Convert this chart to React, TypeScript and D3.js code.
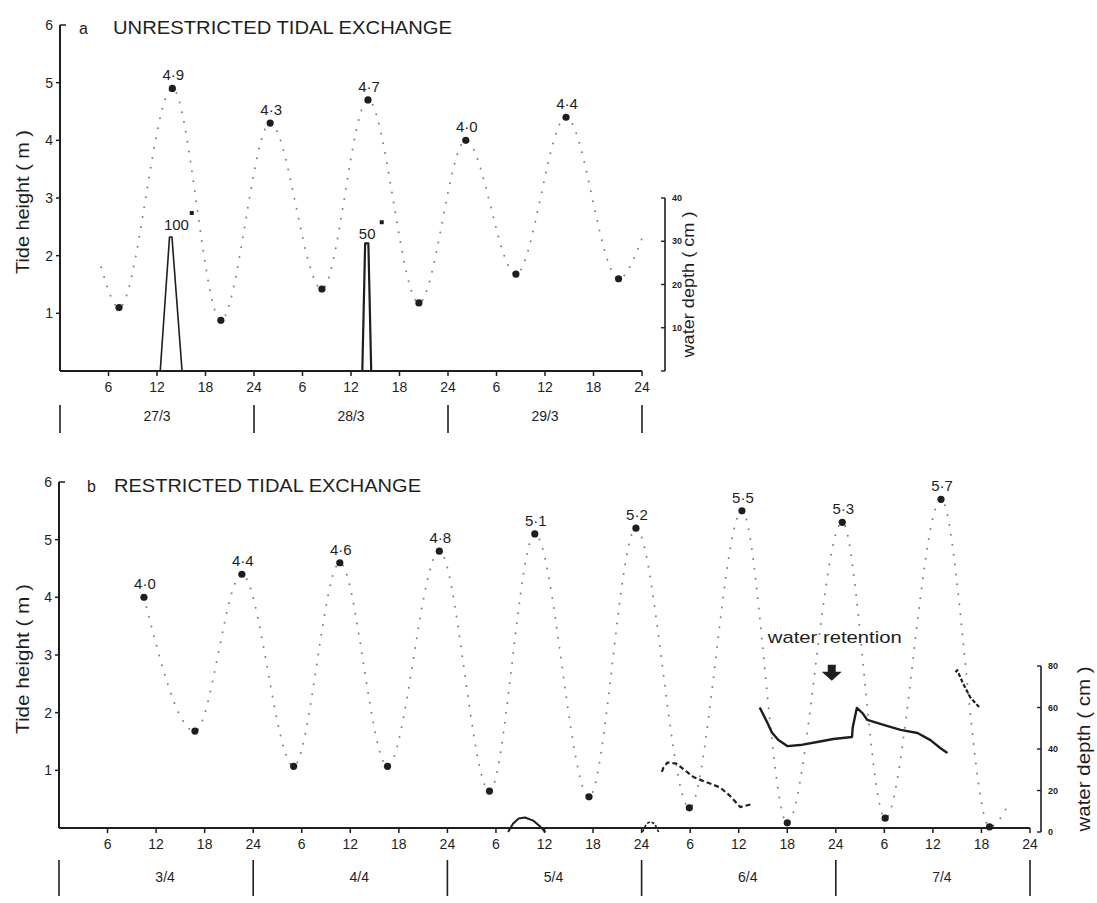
import React from "react";
import * as d3 from "d3";

// ---------- data (hours from start of first day, tide height in m, depth in cm) ----------
const daysA = ["27/3", "28/3", "29/3"];
const daysB = ["3/4", "4/4", "5/4", "6/4", "7/4"];
const tideTickValues = [1, 2, 3, 4, 5, 6];
const depthTicksA = [0, 10, 20, 30, 40];
const depthLabelsA = ["", "10", "20", "30", "40"];
const depthTicksB = [0, 20, 40, 60, 80];
const depthLabelsB = ["0", "20", "40", "60", "80"];

// Panel a: tide extremes
const highsA = [
  { t: 13.9, h: 4.9, label: "4·9" },
  { t: 26.0, h: 4.3, label: "4·3" },
  { t: 38.1, h: 4.7, label: "4·7" },
  { t: 50.2, h: 4.0, label: "4·0" },
  { t: 62.6, h: 4.4, label: "4·4" },
];
const lowsA = [
  { t: 7.3, h: 1.1 },
  { t: 19.9, h: 0.88 },
  { t: 32.4, h: 1.42 },
  { t: 44.4, h: 1.18 },
  { t: 56.4, h: 1.68 },
  { t: 69.1, h: 1.6 },
];
const curveEndsA = [
  { t: 5.1, h: 1.8 },
  { t: 72.0, h: 2.3 },
];
// Panel a: water depth spikes
const depthSpike1A = [
  [12.4, 0], [13.55, 31], [13.85, 31], [15.1, 0],
];
const depthSpike2A = [
  [37.4, 0], [37.75, 29.5], [38.15, 29.5], [38.5, 0],
];
const spikeNotesA = [
  { label: "100", t: 14.4, d: 32.5 },
  { label: "50", t: 38.0, d: 30.5 },
];
const spikeMarksA = [
  { t: 16.3, h: 2.74 },
  { t: 39.8, h: 2.58 },
];

// Panel b: tide extremes
const highsB = [
  { t: 10.5, h: 4.0, label: "4·0" },
  { t: 22.6, h: 4.4, label: "4·4" },
  { t: 34.7, h: 4.6, label: "4·6" },
  { t: 47.0, h: 4.8, label: "4·8" },
  { t: 58.8, h: 5.1, label: "5·1" },
  { t: 71.3, h: 5.2, label: "5·2" },
  { t: 84.4, h: 5.5, label: "5·5" },
  { t: 96.8, h: 5.3, label: "5·3" },
  { t: 109.0, h: 5.7, label: "5·7" },
];
const lowsB = [
  { t: 16.8, h: 1.68 },
  { t: 29.0, h: 1.07 },
  { t: 40.6, h: 1.07 },
  { t: 53.2, h: 0.64 },
  { t: 65.5, h: 0.54 },
  { t: 77.9, h: 0.35 },
  { t: 90.0, h: 0.09 },
  { t: 102.1, h: 0.17 },
  { t: 115.0, h: 0.02 },
];
const curveEndsB = [{ t: 117.5, h: 0.45 }];

// Panel b: water depth segments
const depthSeg1B = [
  [55.5, 0], [56.1, 4], [56.8, 6.5], [57.6, 7], [58.6, 5.5], [59.5, 2.5], [60.1, 0],
];
const depthSeg2B = [
  [72.1, 0], [72.6, 4], [73.1, 5], [73.6, 4], [74.1, 0],
];
const depthSeg3B = [
  [74.5, 29], [74.7, 31], [75.2, 33.5], [76.3, 33], [78.4, 26.5], [80.0, 24],
  [81.7, 21.5], [82.9, 17.5], [84.2, 12], [85.7, 13.5],
];
const depthSeg4B = [
  [86.6, 60], [87.5, 53], [88.1, 48], [88.9, 44.3], [90.0, 41.4], [91.6, 41.9],
  [93.7, 43.4], [95.7, 44.8], [98.0, 45.8], [98.1, 50.6], [98.6, 59.8],
  [99.3, 57.3], [99.9, 54], [101.9, 51.6], [104.0, 49.2], [106.1, 47.7],
  [107.7, 44.3], [108.9, 40.5], [109.8, 38.1],
];
const depthSeg5B = [
  [110.8, 77], [111.0, 78], [111.7, 71.8], [112.6, 65], [113.8, 59.8],
];
const retentionNote = { label: "water retention", t: 95.5, h: 2.83, textH: 3.2 };

// ---------- drawing ----------
const FONT = "'Liberation Sans', Arial, Helvetica, sans-serif";
const INK = "#1e1e1e";

type Pt = { t: number; h: number };

function TideCurve({ pts, x, y }: { pts: Pt[]; x: any; y: any }) {
  const sorted = [...pts].sort((a, b) => a.t - b.t);
  const line = d3
    .line<Pt>()
    .x((d) => x(d.t))
    .y((d) => y(d.h))
    .curve(d3.curveMonotoneX);
  return (
    <path
      d={line(sorted) || ""}
      fill="none"
      stroke="#808080"
      strokeWidth={2}
      strokeDasharray="0 10"
      strokeLinecap="round"
    />
  );
}

function DepthLine({
  pts, x, yd, width = 2, dash,
}: { pts: number[][]; x: any; yd: any; width?: number; dash?: string }) {
  const line = d3
    .line<number[]>()
    .x((d) => x(d[0]))
    .y((d) => yd(d[1]))
    .curve(d3.curveLinear);
  return (
    <path
      d={line(pts) || ""}
      fill="none"
      stroke={INK}
      strokeWidth={width}
      strokeDasharray={dash}
      strokeLinejoin="round"
    />
  );
}

function Panel(props: {
  x: any; y: any; yd: any; days: string[]; letter: string; title: string;
  titleX: number; letterX: number; titleLen: number; titleY: number;
  highs: any[]; lows: Pt[]; ends: Pt[];
  depthTicks: number[]; depthLabels: string[]; depthAxisX: number;
  depthTitleX: number; depthTitleLen: number; depthFont: number;
  tideTitleLen: number;
  dayBarTop: number; dayBarBottom: number; dayLabelY: number; dayLabelShift: number;
  children?: any;
}) {
  const { x, y, yd, days } = props;
  const [x0, x1] = x.range();
  const y0 = y(0);
  const y6 = y(6);
  const nHours = days.length * 24;
  const hours = d3.range(6, nHours + 1, 6);
  const dayEdges = d3.range(0, days.length + 1).map((i) => i * 24);
  const [d0, d1] = yd.domain();
  return (
    <g>
      <text x={props.letterX} y={props.titleY} fontSize={16} fontFamily={FONT} fill={INK}>
        {props.letter}
      </text>
      <text
        x={props.titleX}
        y={props.titleY}
        fontSize={18}
        fontFamily={FONT}
        fill={INK}
        textLength={props.titleLen}
        lengthAdjust="spacingAndGlyphs"
      >
        {props.title}
      </text>

      <line x1={x0} x2={x0} y1={y0} y2={y6} stroke={INK} strokeWidth={2} />
      <line x1={x0} x2={x0 + 6} y1={y6} y2={y6} stroke={INK} strokeWidth={1.5} />
      {tideTickValues.map((v) => (
        <g key={"yt" + v}>
          {v < 6 && <line x1={x0 - 4} x2={x0} y1={y(v)} y2={y(v)} stroke={INK} strokeWidth={1.5} />}
          <text
            x={x0 - 7}
            y={y(v) + 5}
            textAnchor="end"
            fontSize={14}
            fontFamily={FONT}
            fill={INK}
          >
            {v}
          </text>
        </g>
      ))}
      <text
        transform={`translate(29,${(y0 + y6) / 2 + 4}) rotate(-90)`}
        textAnchor="middle"
        fontSize={18}
        fontFamily={FONT}
        fill={INK}
        textLength={props.tideTitleLen}
        lengthAdjust="spacingAndGlyphs"
      >
        Tide height ( m )
      </text>

      <line x1={x0} x2={x1} y1={y0} y2={y0} stroke={INK} strokeWidth={2} />
      {hours.map((hr) => (
        <g key={"xt" + hr}>
          <line x1={x(hr)} x2={x(hr)} y1={y0} y2={y0 + 5} stroke={INK} strokeWidth={1.5} />
          <text
            x={x(hr)}
            y={y0 + 21}
            textAnchor="middle"
            fontSize={14}
            fontFamily={FONT}
            fill={INK}
          >
            {((hr - 1) % 24) + 1}
          </text>
        </g>
      ))}
      {dayEdges.map((hr) => (
        <line
          key={"db" + hr}
          x1={x(hr)}
          x2={x(hr)}
          y1={props.dayBarTop}
          y2={props.dayBarBottom}
          stroke={INK}
          strokeWidth={1.6}
        />
      ))}
      {days.map((d, i) => (
        <text
          key={"dl" + d}
          x={x(i * 24 + 12) + props.dayLabelShift}
          y={props.dayLabelY}
          textAnchor="middle"
          fontSize={14}
          fontFamily={FONT}
          fill={INK}
        >
          {d}
        </text>
      ))}

      <line
        x1={props.depthAxisX}
        x2={props.depthAxisX}
        y1={yd(d0)}
        y2={yd(d1)}
        stroke={INK}
        strokeWidth={1.6}
      />
      {props.depthTicks.map((v, i) => (
        <g key={"dt" + v}>
          <line
            x1={props.depthAxisX - 4}
            x2={props.depthAxisX}
            y1={yd(v)}
            y2={yd(v)}
            stroke={INK}
            strokeWidth={1.4}
          />
          <text
            x={props.depthAxisX + 7}
            y={yd(v) + 3}
            fontSize={9}
            fontWeight="bold"
            fontFamily={FONT}
            fill={INK}
          >
            {props.depthLabels[i]}
          </text>
        </g>
      ))}
      <text
        transform={`translate(${props.depthTitleX},${(yd(d0) + yd(d1)) / 2}) rotate(-90)`}
        textAnchor="middle"
        fontSize={props.depthFont}
        fontFamily={FONT}
        fill={INK}
        textLength={props.depthTitleLen}
        lengthAdjust="spacingAndGlyphs"
      >
        water depth ( cm )
      </text>

      <TideCurve pts={[...props.ends, ...props.highs, ...props.lows]} x={x} y={y} />
      {[...props.highs, ...props.lows].map((d: Pt, i: number) => (
        <circle key={"m" + i} cx={x(d.t)} cy={y(d.h)} r={3.6} fill={INK} />
      ))}
      {props.highs.map((d: any, i: number) => (
        <text
          key={"hl" + i}
          x={x(d.t) + 1}
          y={y(d.h) - 8}
          textAnchor="middle"
          fontSize={15}
          fontFamily={FONT}
          fill={INK}
        >
          {d.label}
        </text>
      ))}
      {props.children}
    </g>
  );
}

export default function App() {
  const xA = d3.scaleLinear().domain([0, 72]).range([60, 642]);
  const yA = d3.scaleLinear().domain([0, 6]).range([371, 25]);
  const ydA = d3.scaleLinear().domain([0, 40]).range([371, 198]);

  const xB = d3.scaleLinear().domain([0, 120]).range([59, 1030]);
  const yB = d3.scaleLinear().domain([0, 6]).range([828, 482]);
  const ydB = d3.scaleLinear().domain([0, 80]).range([832, 666]);

  const ax = xB(retentionNote.t);
  const ay = yB(retentionNote.h);

  return (
    <div style={{ position: "absolute", left: 0, top: 0 }}>
      <svg width={1097} height={903} style={{ display: "block", background: "#ffffff" }}>
        <Panel
          x={xA}
          y={yA}
          yd={ydA}
          days={daysA}
          letter="a"
          title="UNRESTRICTED TIDAL EXCHANGE"
          letterX={79}
          titleX={113}
          titleLen={339}
          titleY={34}
          highs={highsA}
          lows={lowsA}
          ends={curveEndsA}
          depthTicks={depthTicksA}
          depthLabels={depthLabelsA}
          depthAxisX={665}
          depthTitleX={694}
          depthTitleLen={146}
          depthFont={17}
          tideTitleLen={144}
          dayBarTop={405}
          dayBarBottom={433}
          dayLabelY={421}
          dayLabelShift={0}
        >
          <DepthLine pts={depthSpike1A} x={xA} yd={ydA} width={1.6} />
          <DepthLine pts={depthSpike2A} x={xA} yd={ydA} width={2.2} />
          {spikeNotesA.map((n) => (
            <text
              key={n.label}
              x={xA(n.t)}
              y={ydA(n.d)}
              textAnchor="middle"
              fontSize={15}
              fontFamily={FONT}
              fill={INK}
            >
              {n.label}
            </text>
          ))}
          {spikeMarksA.map((m, i) => (
            <rect
              key={"sm" + i}
              x={xA(m.t) - 2}
              y={yA(m.h) - 2}
              width={4}
              height={4}
              fill={INK}
            />
          ))}
        </Panel>

        <Panel
          x={xB}
          y={yB}
          yd={ydB}
          days={daysB}
          letter="b"
          title="RESTRICTED TIDAL EXCHANGE"
          letterX={87}
          titleX={114}
          titleLen={307}
          titleY={492}
          highs={highsB}
          lows={lowsB}
          ends={curveEndsB}
          depthTicks={depthTicksB}
          depthLabels={depthLabelsB}
          depthAxisX={1041}
          depthTitleX={1090}
          depthTitleLen={165}
          depthFont={19}
          tideTitleLen={150}
          dayBarTop={860}
          dayBarBottom={896}
          dayLabelY={882}
          dayLabelShift={9}
        >
          <DepthLine pts={depthSeg1B} x={xB} yd={ydB} width={2} />
          <DepthLine pts={depthSeg2B} x={xB} yd={ydB} width={1.6} dash="3 2" />
          <DepthLine pts={depthSeg3B} x={xB} yd={ydB} width={2.2} dash="5 3" />
          <DepthLine pts={depthSeg4B} x={xB} yd={ydB} width={2.4} />
          <DepthLine pts={depthSeg5B} x={xB} yd={ydB} width={2.2} dash="4 2" />
          <text
            x={ax + 3}
            y={yB(retentionNote.textH)}
            textAnchor="middle"
            fontSize={17}
            fontFamily={FONT}
            fill={INK}
            textLength={134}
            lengthAdjust="spacingAndGlyphs"
          >
            {retentionNote.label}
          </text>
          <path
            d={`M${ax - 4},${ay} L${ax + 4},${ay} L${ax + 4},${ay + 7} L${ax + 10},${ay + 7} L${ax},${ay + 16} L${ax - 10},${ay + 7} L${ax - 4},${ay + 7} Z`}
            fill={INK}
          />
        </Panel>
      </svg>
    </div>
  );
}
